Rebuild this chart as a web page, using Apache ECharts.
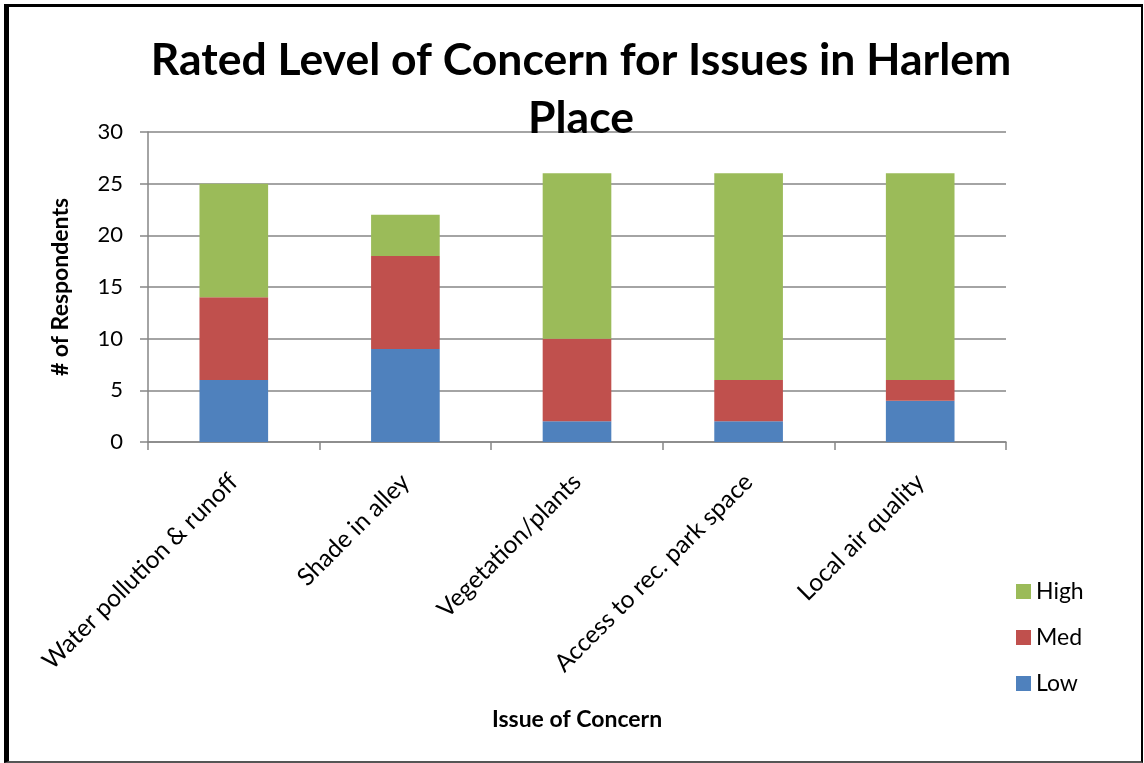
<!DOCTYPE html>
<html>
<head>
<meta charset="utf-8">
<script src="https://cdn.jsdelivr.net/npm/echarts@6/dist/echarts.min.js"></script>
<style>
  html, body { margin: 0; padding: 0; background: #fff; }
  #chart { width: 1144px; height: 763px; position: absolute; left: 0; top: 0; }
  /* outer frame around the whole chart */
  #frame { position: absolute; left: 4px; top: 4px; right: 1px; bottom: 0px;
           border-top: 3px solid #000; border-left: 5px solid #000;
           border-right: 2px solid #000; border-bottom: 2px solid #555; }
</style>
</head>
<body>
<div id="chart"></div>
<div id="frame"></div>
<script>
// Survey counts per issue, split by rated concern level
const categories = ['Water pollution & runoff', 'Shade in alley', 'Vegetation/plants', 'Access to rec. park space', 'Local air quality'];
const lowValues  = [6, 9, 2, 2, 4];
const medValues  = [8, 9, 8, 4, 2];
const highValues = [11, 4, 16, 20, 20];
const yTicks = { min: 0, max: 30, interval: 5 };

const font = 'Lato, "Open Sans", sans-serif';
const chart = echarts.init(document.getElementById('chart'), null, { renderer: 'canvas' });

const bar = (name, data, color) => ({
  name, type: 'bar', stack: 'total', data, barWidth: '40%',
  itemStyle: { color }, emphasis: { disabled: true }
});

chart.setOption({
  animation: false,
  title: {
    text: 'Rated Level of Concern for Issues in Harlem\nPlace',
    left: 576, top: 27, textAlign: 'center',
    textStyle: { fontFamily: font, fontSize: 44.5, fontWeight: 'bold', color: '#000', lineHeight: 58 }
  },
  grid: { left: 148, right: 138, top: 132, bottom: 321 },
  legend: {
    orient: 'vertical', left: 1011, top: 575, itemGap: 23,
    itemWidth: 15, itemHeight: 15, icon: 'rect',
    data: ['High', 'Med', 'Low'],
    textStyle: { fontFamily: font, fontSize: 23, color: '#000' }
  },
  xAxis: {
    type: 'category', data: categories,
    name: 'Issue of Concern', nameLocation: 'middle', nameGap: 266,
    nameTextStyle: { fontFamily: font, fontSize: 23, fontWeight: 'bold', color: '#000' },
    axisLine: { lineStyle: { color: '#868686', width: 1.5 } },
    axisTick: { show: true, length: 8, alignWithLabel: false, lineStyle: { color: '#868686', width: 1.5 } },
    axisLabel: { rotate: 45, fontFamily: font, fontSize: 24.5, color: '#000', margin: 36 }
  },
  yAxis: {
    type: 'value', min: yTicks.min, max: yTicks.max, interval: yTicks.interval,
    name: '# of Respondents', nameLocation: 'middle', nameGap: 76, nameRotate: 90,
    nameTextStyle: { fontFamily: font, fontSize: 23, fontWeight: 'bold', color: '#000' },
    axisLine: { show: true, lineStyle: { color: '#868686', width: 1.5 } },
    axisTick: { show: true, length: 8, lineStyle: { color: '#868686', width: 1.5 } },
    axisLabel: { fontFamily: font, fontSize: 22, color: '#000', margin: 25 },
    splitLine: { lineStyle: { color: '#868686', width: 1.5 } }
  },
  series: [
    bar('Low', lowValues, '#4F81BD'),
    bar('Med', medValues, '#C0504D'),
    bar('High', highValues, '#9BBB59')
  ]
});
</script>
</body>
</html>
